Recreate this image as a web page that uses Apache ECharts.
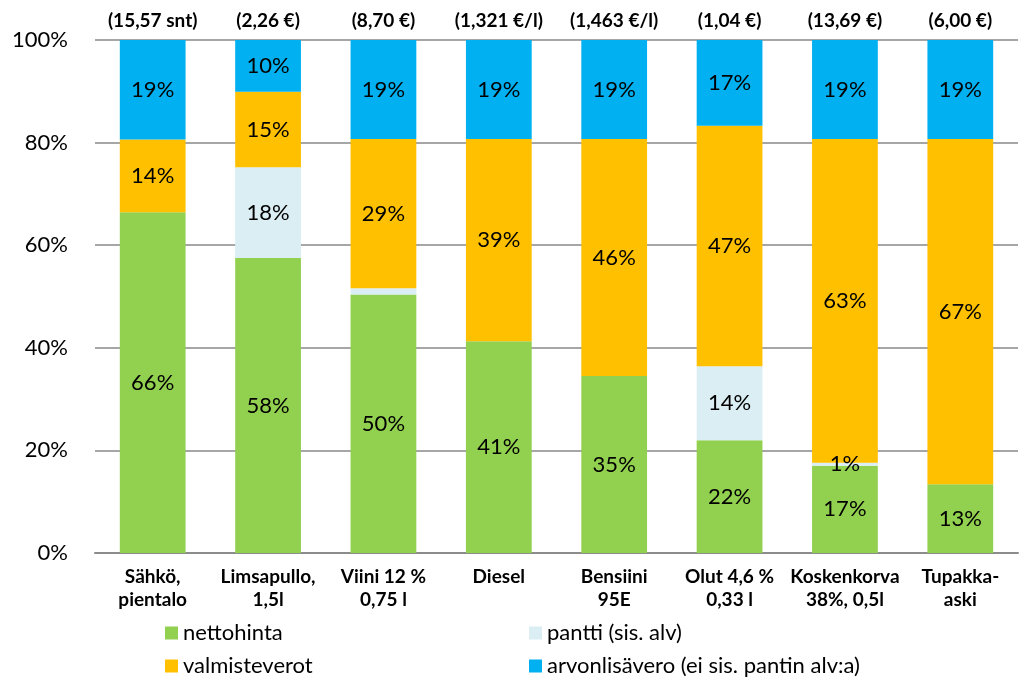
<!DOCTYPE html>
<html>
<head>
<meta charset="utf-8">
<script src="https://cdn.jsdelivr.net/npm/echarts@6/dist/echarts.min.js"></script>
<style>
  html, body { margin: 0; padding: 0; background: #fff; }
  #chart { width: 1020px; height: 677px; }
</style>
</head>
<body>
<div id="chart"></div>
<script>
// Product categories and their consumer prices
const categories = ['Sähkö,\npientalo', 'Limsapullo,\n1,5l', 'Viini 12 %\n0,75 l', 'Diesel', 'Bensiini\n95E', 'Olut 4,6 %\n0,33 l', 'Koskenkorva\n38%, 0,5l', 'Tupakka-\naski'];
const prices = ['(15,57 snt)', '(2,26 €)', '(8,70 €)', '(1,321 €/l)', '(1,463 €/l)', '(1,04 €)', '(13,69 €)', '(6,00 €)'];

// Price components, % of consumer price
const nettohinta    = [66.4, 57.5, 50.4, 41.3, 34.5, 22.0, 17.0, 13.4];
const pantti        = [0,    17.7, 1.2,  0,    0,    14.4, 0.6,  0];
const valmisteverot = [14.2, 14.7, 29.1, 39.4, 46.2, 46.9, 63.1, 67.3];
const arvonlisavero = [19.4, 10.1, 19.3, 19.3, 19.3, 16.7, 19.3, 19.3];

const seriesNames = ['nettohinta', 'pantti (sis. alv)', 'valmisteverot', 'arvonlisävero (ei sis. pantin alv:a)'];
const seriesColors = ['#92D050', '#DAEEF3', '#FFC000', '#00B0F0'];

// Segments too thin to carry a label (series index -> category indices)
const hiddenLabels = { 1: [2] };

const yTicks = [0, 20, 40, 60, 80, 100];

const FONT = 'Lato, "Noto Sans", sans-serif';

function makeSeries(idx, values) {
  const hidden = hiddenLabels[idx] || [];
  return {
    name: seriesNames[idx],
    type: 'bar',
    stack: 'total',
    barWidth: '57%',
    itemStyle: { color: seriesColors[idx] },
    label: {
      show: true,
      position: 'inside',
      fontFamily: FONT,
      fontSize: 22,
      color: '#000',
      formatter: p => Math.round(p.value) + '%'
    },
    data: values.map((v, i) => {
      if (v === 0 || hidden.indexOf(i) >= 0) return { value: v, label: { show: false } };
      return v;
    })
  };
}

const series = [nettohinta, pantti, valmisteverot, arvonlisavero].map((vals, i) => makeSeries(i, vals));

// One legend block per entry, laid out in two columns
const legendPos = [[165, 622], [529, 622], [165, 655], [529, 655]];
const legends = seriesNames.map((name, i) => ({
  left: legendPos[i][0], top: legendPos[i][1],
  padding: 0,
  itemWidth: 13, itemHeight: 13, icon: 'rect', itemGap: 0,
  textStyle: { fontFamily: FONT, fontSize: 22, color: '#000' },
  data: [name]
}));

const chart = echarts.init(document.getElementById('chart'), null, { renderer: 'canvas' });
chart.setOption({
  animation: false,
  backgroundColor: '#fff',
  grid: { left: 95, right: 2, top: 40, bottom: 124 },
  legend: legends,
  xAxis: [
    {
      type: 'category',
      data: categories,
      position: 'bottom',
      axisLine: { show: true, lineStyle: { color: '#8c8c8c', width: 2 } },
      axisTick: { show: false },
      axisLabel: {
        interval: 0, margin: 12,
        fontFamily: FONT, fontSize: 19, fontWeight: 'bold',
        color: '#000', lineHeight: 23
      }
    },
    {
      type: 'category',
      data: prices,
      position: 'top',
      axisLine: { show: false },
      axisTick: { show: false },
      axisLabel: {
        interval: 0, margin: 10,
        fontFamily: FONT, fontSize: 19, fontWeight: 'bold', color: '#000'
      }
    }
  ],
  yAxis: {
    type: 'value',
    min: yTicks[0], max: yTicks[yTicks.length - 1], interval: 20,
    axisLine: { show: false },
    axisTick: { show: false },
    splitLine: { lineStyle: { color: '#a6a6a6', width: 2 } },
    axisLabel: {
      margin: 27,
      fontFamily: FONT, fontSize: 22, color: '#000',
      formatter: v => v + '%'
    }
  },
  series: series
});
</script>
</body>
</html>
